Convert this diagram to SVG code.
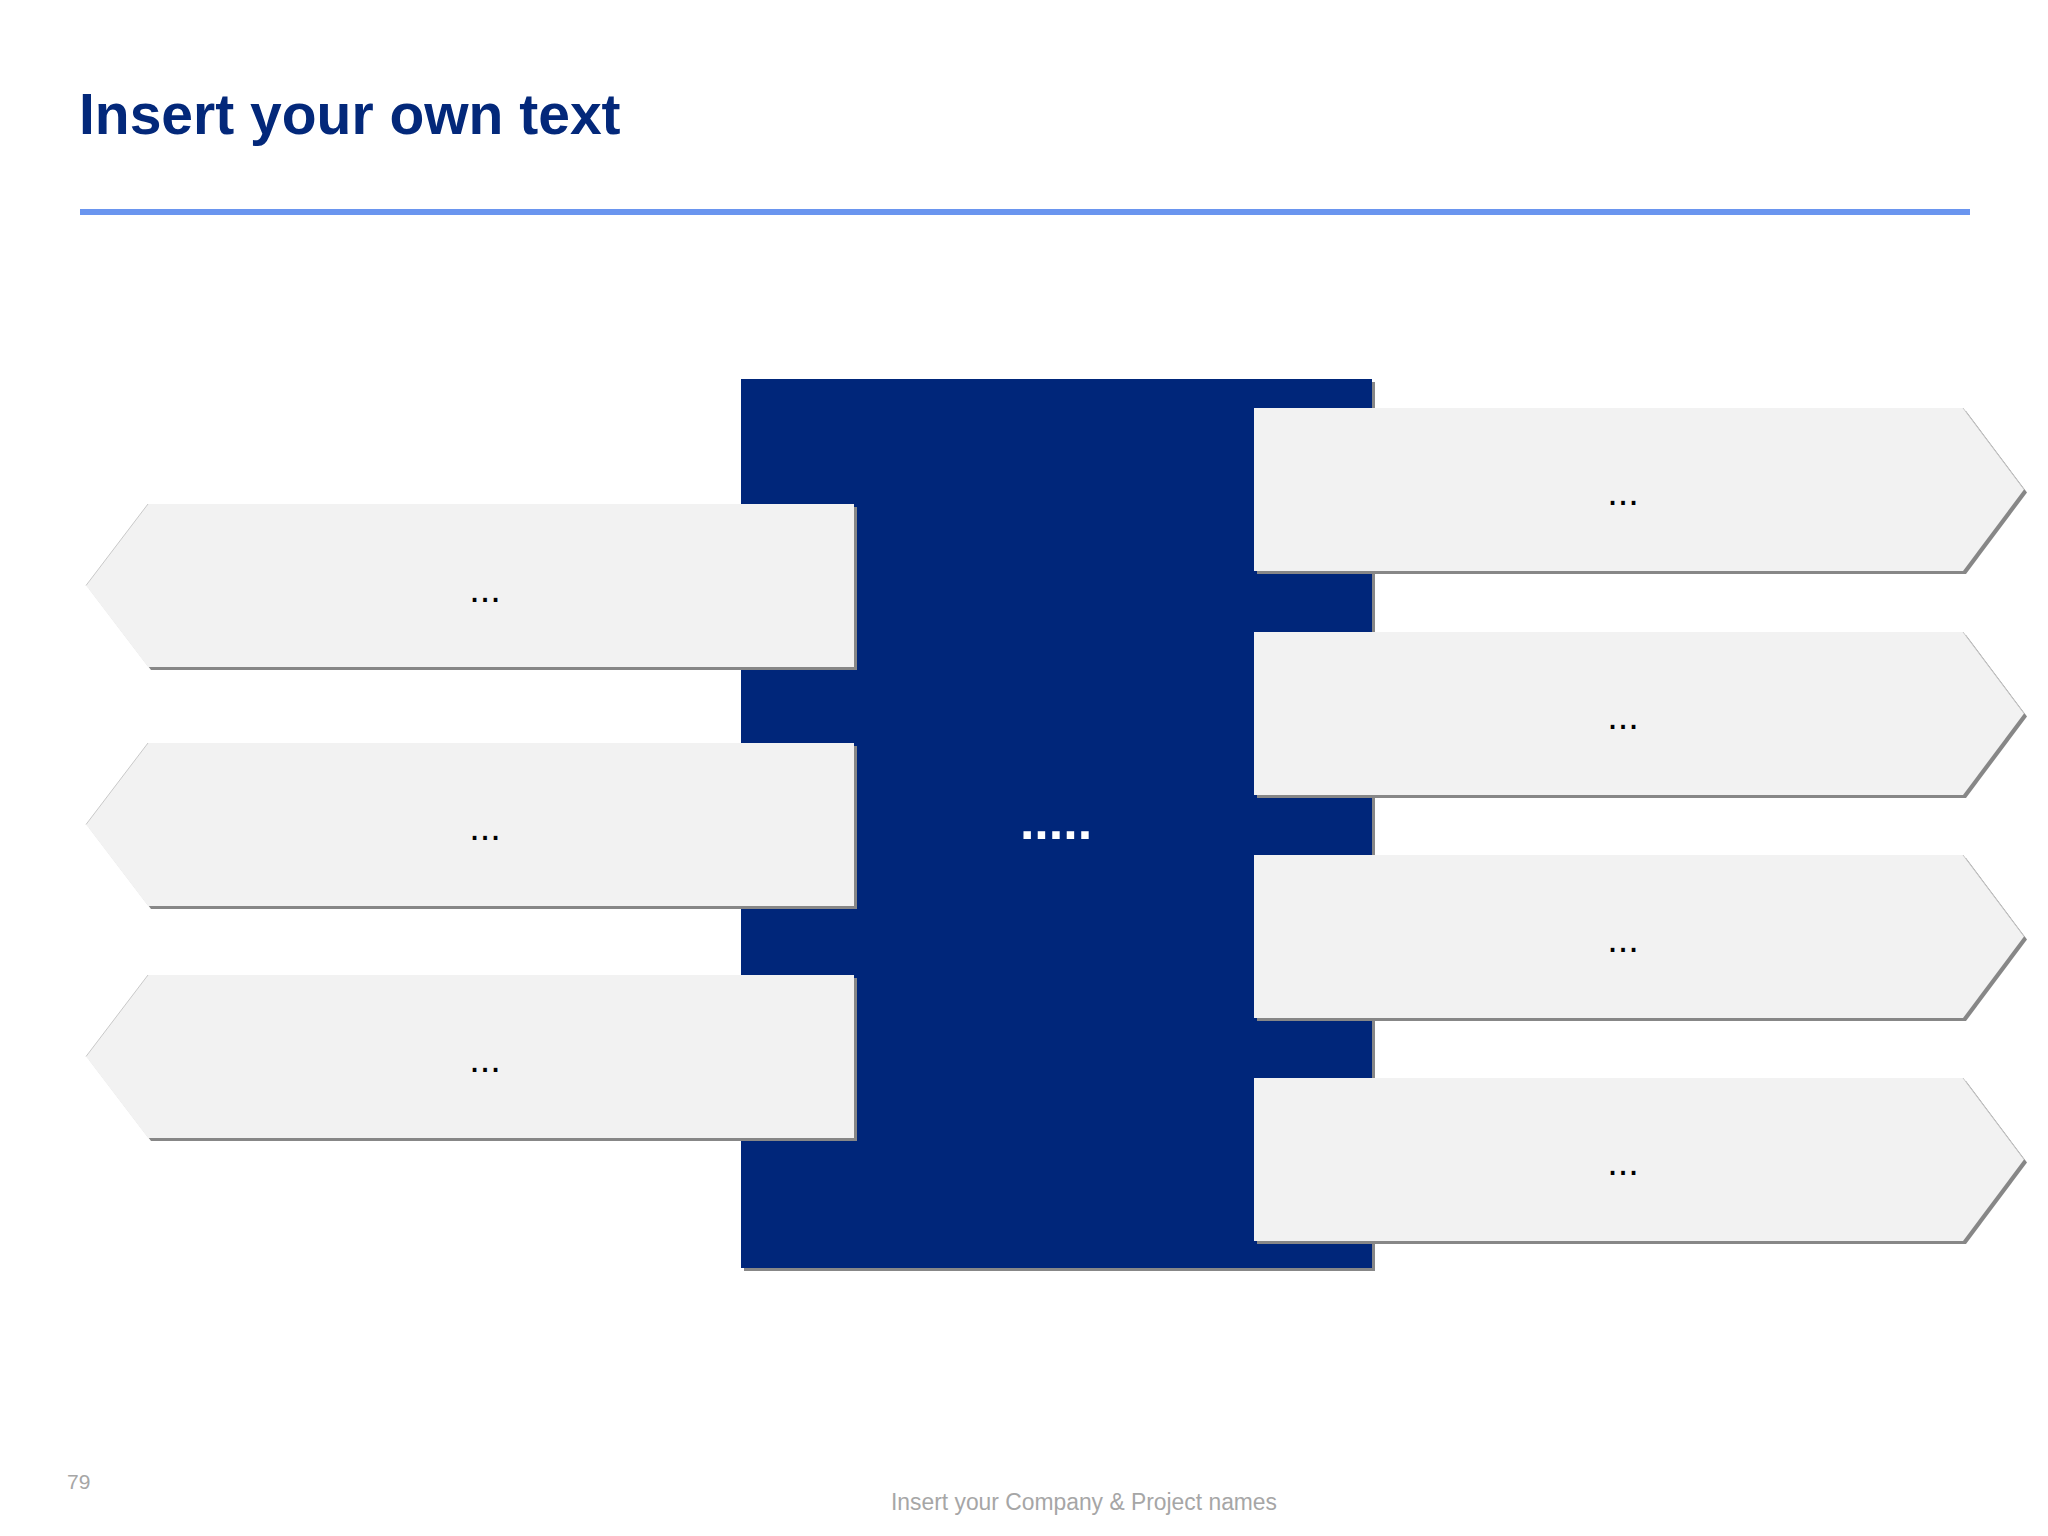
<svg xmlns="http://www.w3.org/2000/svg" xmlns:xlink="http://www.w3.org/1999/xlink" width="2048" height="1536" viewBox="0 0 2048 1536">
  <style>
    .title { font-family: "Liberation Sans", Arial, sans-serif; font-weight: bold; font-size: 57px; fill: #03287A; }
    .arrow { fill: #F2F2F2; }
    .shadow { fill: #878787; }
    .edge { fill: none; stroke: #C8C8C8; stroke-width: 1; }
    .lbl { font-family: "Liberation Sans", Arial, sans-serif; font-size: 38px; fill: #000000; text-anchor: middle; }
    .center { font-family: "Liberation Sans", Arial, sans-serif; font-weight: bold; font-size: 52px; fill: #FFFFFF; text-anchor: middle; }
    .foot { font-family: "Liberation Sans", Arial, sans-serif; fill: #A6A6A6; }
  </style>
  <defs>
    <polygon id="larrow" points="148,0 854,0 854,163 148,163 86,81.5"/>
    <polygon id="rarrow" points="1254,0 1963,0 2024,81.5 1963,163 1254,163"/>
  </defs>

  <rect x="0" y="0" width="2048" height="1536" fill="#FFFFFF"/>

  <g id="header">
    <text class="title" x="79" y="134">Insert your own text</text>
    <rect x="80" y="209" width="1890" height="6" fill="#6A95EF"/>
  </g>

  <g id="center-box">
    <rect x="744" y="382" width="631" height="889" class="shadow"/>
    <rect x="741" y="379" width="631" height="889" fill="#00267A"/>
    <text class="center" x="1056" y="839">.....</text>
  </g>

  <g id="left-1" transform="translate(0,504)">
    <use xlink:href="#larrow" class="shadow" transform="translate(3,3)"/>
    <use xlink:href="#larrow" class="arrow"/>
    <polyline class="edge" points="86,81.5 148,0"/>
    <text class="lbl" x="485" y="98">...</text>
  </g>
  <g id="left-2" transform="translate(0,743)">
    <use xlink:href="#larrow" class="shadow" transform="translate(3,3)"/>
    <use xlink:href="#larrow" class="arrow"/>
    <polyline class="edge" points="86,81.5 148,0"/>
    <text class="lbl" x="485" y="97">...</text>
  </g>
  <g id="left-3" transform="translate(0,975)">
    <use xlink:href="#larrow" class="shadow" transform="translate(3,3)"/>
    <use xlink:href="#larrow" class="arrow"/>
    <polyline class="edge" points="86,81.5 148,0"/>
    <text class="lbl" x="485" y="97">...</text>
  </g>

  <g id="right-1" transform="translate(0,408)">
    <use xlink:href="#rarrow" class="shadow" transform="translate(3,3)"/>
    <use xlink:href="#rarrow" class="arrow"/>
    <polyline class="edge" points="1963,0 2024,81.5"/>
    <text class="lbl" x="1623" y="97">...</text>
  </g>
  <g id="right-2" transform="translate(0,632)">
    <use xlink:href="#rarrow" class="shadow" transform="translate(3,3)"/>
    <use xlink:href="#rarrow" class="arrow"/>
    <polyline class="edge" points="1963,0 2024,81.5"/>
    <text class="lbl" x="1623" y="97">...</text>
  </g>
  <g id="right-3" transform="translate(0,855)">
    <use xlink:href="#rarrow" class="shadow" transform="translate(3,3)"/>
    <use xlink:href="#rarrow" class="arrow"/>
    <polyline class="edge" points="1963,0 2024,81.5"/>
    <text class="lbl" x="1623" y="97">...</text>
  </g>
  <g id="right-4" transform="translate(0,1078)">
    <use xlink:href="#rarrow" class="shadow" transform="translate(3,3)"/>
    <use xlink:href="#rarrow" class="arrow"/>
    <polyline class="edge" points="1963,0 2024,81.5"/>
    <text class="lbl" x="1623" y="97">...</text>
  </g>

  <g id="connectors"></g>

  <g id="footer">
    <text class="foot" x="67" y="1489" font-size="21">79</text>
    <text class="foot" x="891" y="1510" font-size="23" textLength="386" lengthAdjust="spacingAndGlyphs">Insert your Company &amp; Project names</text>
  </g>
</svg>
